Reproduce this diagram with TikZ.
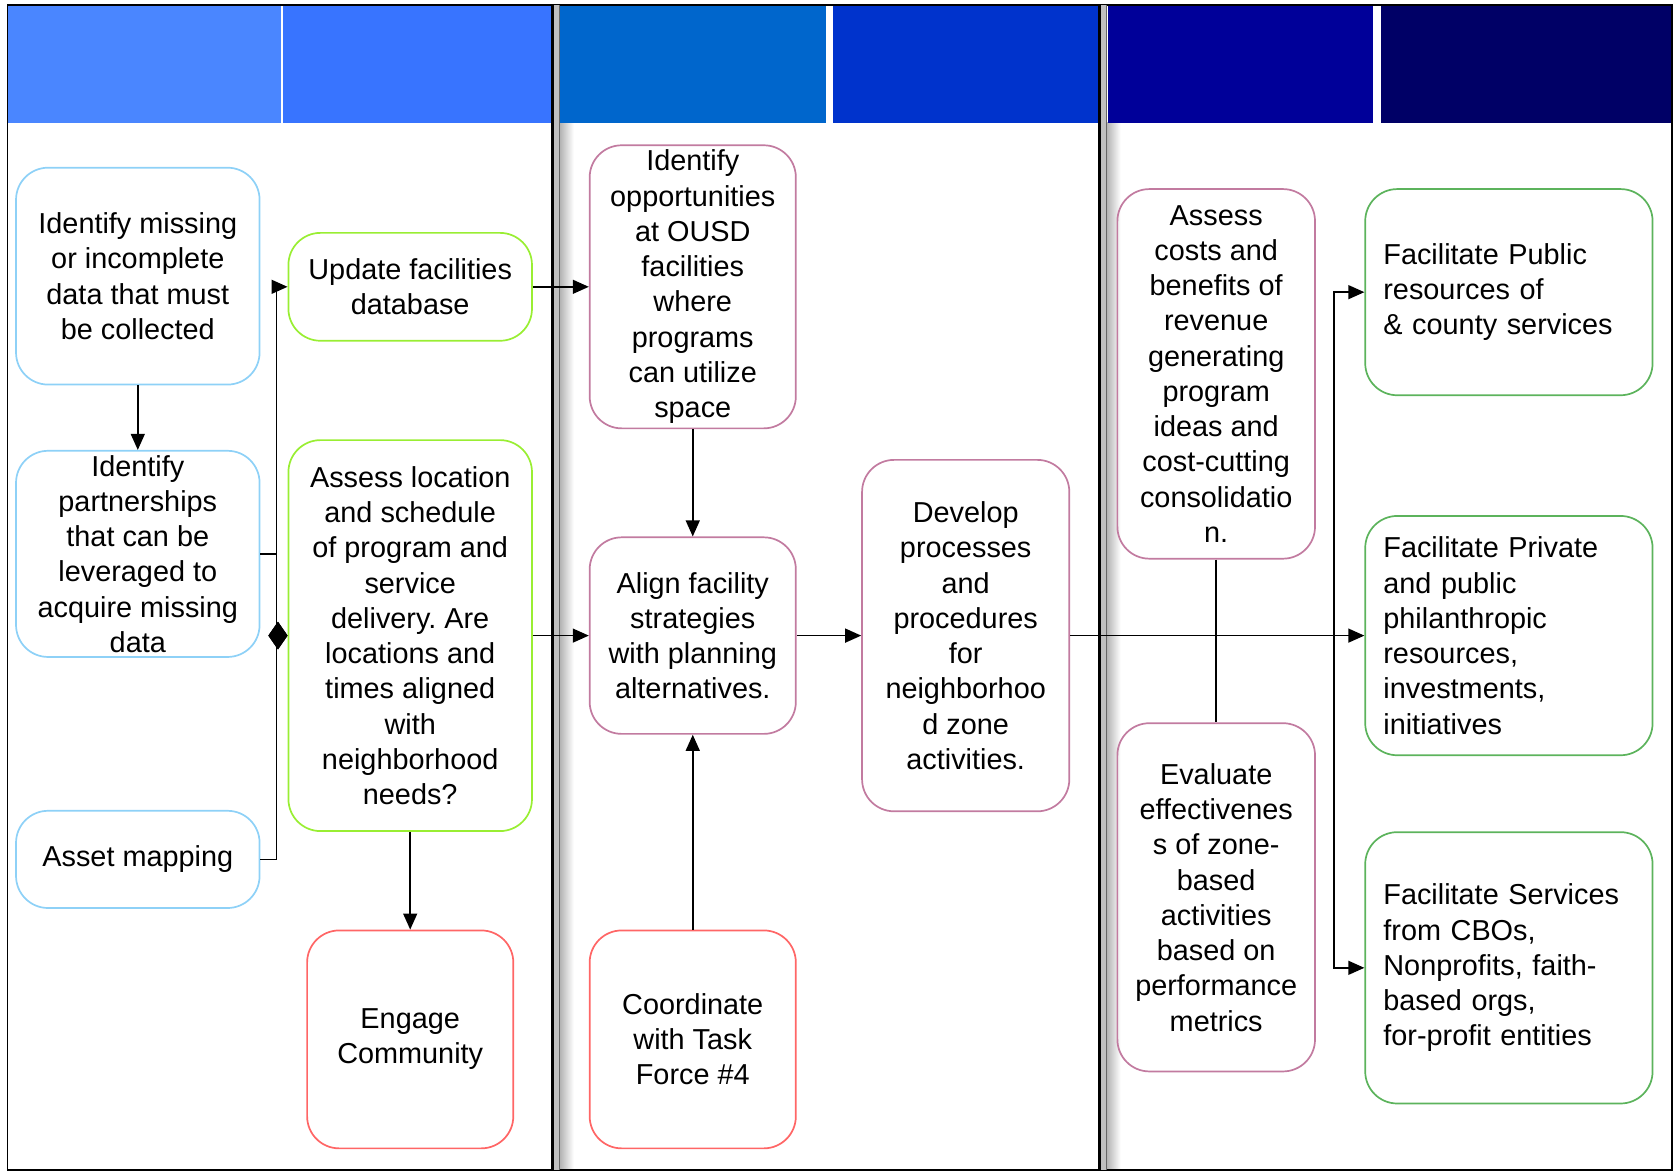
\documentclass[tikz,border=0pt]{standalone}
\usepackage{fontspec}
\setmainfont{Liberation Sans}
\usetikzlibrary{arrows.meta,positioning}
\frenchspacing

\definecolor{skyline}{HTML}{8ED1F7}
\definecolor{limeline}{HTML}{99EE33}
\definecolor{mauveline}{HTML}{C27BA0}
\definecolor{redline}{HTML}{FF6666}
\definecolor{greenline}{HTML}{5CB35C}
\definecolor{headA}{HTML}{4A86FF}
\definecolor{headB}{HTML}{3874FF}
\definecolor{headC}{HTML}{0066CC}
\definecolor{headD}{HTML}{0033CC}
\definecolor{headE}{HTML}{000099}
\definecolor{headF}{HTML}{000066}
\definecolor{bargray}{HTML}{BFBFBF}

\begin{document}
\begin{tikzpicture}[x=0.5pt,y=-0.5pt,->,>={Triangle[length=7.5pt,width=6.5pt]},thick,
    box/.style={rectangle,rounded corners=15pt,draw,thick,align=center,inner sep=2pt,
      font=\fontsize{13.5}{16.5}\selectfont},
    sky node/.style={box,draw=skyline,minimum width=114pt},
    lime node/.style={box,draw=limeline,minimum width=114pt},
    red node/.style={box,draw=redline,minimum width=96.5pt},
    mauve node/.style={box,draw=mauveline,minimum width=96.5pt},
    green node/.style={box,draw=greenline,align=left,inner xsep=8.5pt,
      text width=117.5pt,minimum width=134.5pt}]

  \useasboundingbox (0,0) rectangle (1568,1096);

  % panels and header bands
  \shade[left color=black!30,right color=white] (524,115) rectangle (537,1095);
  \shade[left color=black!30,right color=white] (1036,115) rectangle (1049,1095);
  \fill[headA] (7,5) rectangle (263,115);
  \fill[headB] (265,5) rectangle (516,115);
  \fill[headC] (523,5) rectangle (773,115);
  \fill[headD] (780,5) rectangle (1030,115);
  \fill[headE] (1037,6) rectangle (1285,115);
  \fill[headF] (1293,6) rectangle (1565,115);
  \draw[-,line width=0.8pt] (7,5) -- (1566,5) (7,5) -- (7,1095) (7,1095) -- (1566,1095)
    (1565.5,5) -- (1565.5,1095);
  \fill[bargray] (518,5) rectangle (523.5,1095);
  \fill[bargray] (1030,5) rectangle (1035.5,1095);
  \draw[-,line width=1.3pt] (517,5) -- (517,1095) (1029,5) -- (1029,1095);
  \draw[-,line width=0.4pt,black!60] (523.5,5) -- (523.5,1095) (1035.5,5) -- (1035.5,1095);

  % first panel
  \node[sky node, minimum height=101.5pt] (missing) at (129,258.5)
    {Identify missing\\or incomplete\\data that must\\be collected};
  \node[sky node, minimum height=96.5pt, node distance=130pt, below of=missing] (partner)
    {Identify\\partnerships\\that can be\\leveraged to\\acquire missing\\data};
  \node[sky node, minimum height=45.5pt, node distance=143pt, below of=partner] (asset)
    {Asset mapping};
  \node[lime node, minimum height=50.5pt] (update) at (384,268.5)
    {Update facilities\\database};
  \node[lime node, minimum height=183pt, node distance=163.25pt, below of=update] (assess)
    {Assess location\\and schedule\\of program and\\service\\delivery. Are\\locations and\\times aligned\\with\\neighborhood\\needs?};
  \node[red node, minimum height=102pt, node distance=189pt, below of=assess] (engage)
    {Engage\\Community};

  % second panel
  \node[mauve node, minimum height=132.5pt, node distance=132.25pt, right of=update] (opps)
    {Identify\\opportunities\\at OUSD\\facilities\\where\\programs\\can utilize\\space};
  \node[mauve node, minimum height=92pt, node distance=163.25pt, below of=opps] (align)
    {Align facility\\strategies\\with planning\\alternatives.};
  \node[red node, minimum height=102pt, node distance=189pt, below of=align] (coord)
    {Coordinate\\with Task\\Force \#4};
  \node[mauve node, minimum width=97pt, minimum height=164.5pt, node distance=127.75pt,
    right of=align] (develop)
    {Develop\\processes\\and\\procedures\\for\\neighborhoo\\d zone\\activities.};

  % third panel
  \node[mauve node, minimum width=92.5pt, minimum height=173pt] (costs) at (1138.5,350)
    {Assess\\costs and\\benefits of\\revenue\\generating\\program\\ideas and\\cost-cutting\\consolidatio\\n.};
  \node[mauve node, minimum width=92.5pt, minimum height=163pt, node distance=245pt,
    below of=costs] (evaluate)
    {Evaluate\\effectivenes\\s of zone-\\based\\activities\\based on\\performance\\metrics};
  \node[green node, minimum height=96.5pt] (public) at (1412.5,273.5)
    {Facilitate Public\\resources of\\\& county services};
  \node[green node, minimum height=112pt, node distance=160.75pt, below of=public] (private)
    {Facilitate Private\\and public\\philanthropic\\resources,\\investments,\\initiatives};
  \node[green node, minimum height=127pt, node distance=155.5pt, below of=private] (services)
    {Facilitate Services\\from CBOs,\\Nonprofits, faith-\\based orgs,\\for-profit entities};

  \coordinate (fork) at (1249,595);

  \path
    (missing) edge (partner)
    (update) edge (opps)
    (assess) edge (align)
             edge (engage)
    (opps) edge (align)
    (coord) edge (align)
    (align) edge (develop)
    (develop) edge (private)
    (costs) edge[-] (evaluate);

  \draw (partner.east) -- ++(7.5pt,0pt) |- (update.west);
  \draw[-{Diamond[length=9pt,width=13pt]}] (partner.east) -- ++(7.5pt,0pt) |- (assess.west);
  \draw[-{Diamond[length=9pt,width=13pt]}] (asset.east) -- ++(7.5pt,0pt) |- (assess.west);
  \draw (develop.east) -- (fork) |- (public.west);
  \draw (fork) |- (services.west);

\end{tikzpicture}
\end{document}
